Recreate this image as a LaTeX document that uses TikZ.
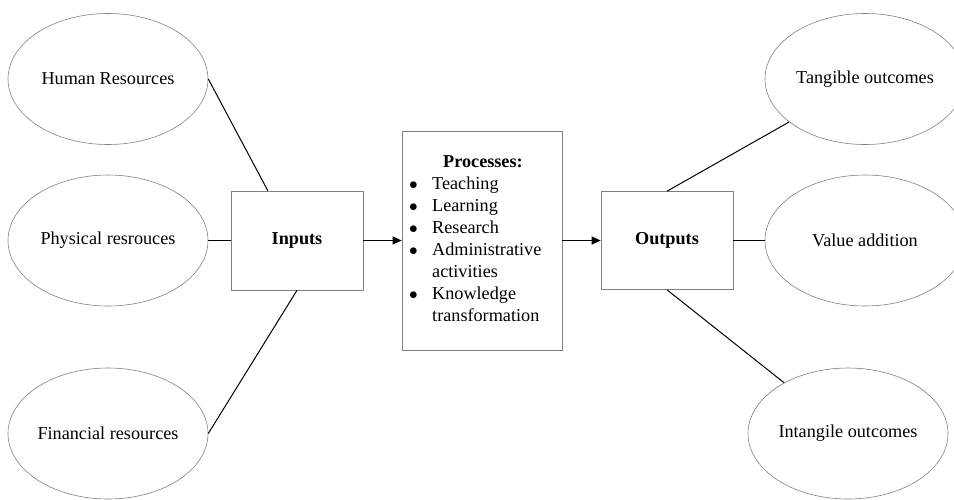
\documentclass[tikz,border=0pt]{standalone}
\usepackage{fontspec}
\setmainfont{Liberation Serif}
\usetikzlibrary{shapes.geometric,arrows.meta,calc}
\newcommand\mybul{$\bullet$}
\begin{document}
\begin{tikzpicture}[x=1pt,y=-1pt,
  every node/.style={font=\fontsize{18.2}{22}\selectfont},
  res/.style={ellipse,draw=gray,line width=0.6pt,minimum width=200pt,minimum height=131pt,inner sep=0pt},
  blk/.style={rectangle,draw=gray,line width=0.6pt,inner sep=0pt},
  link/.style={draw=black,line width=1pt},
  flow/.style={draw=black,line width=1pt,-{Triangle[length=9pt,width=8pt]}}]
\useasboundingbox (0,0) rectangle (954,499);
% left ellipses
\node[res] (hr) at (108,79) {Human Resources};
\node[res] (pr) at (108,240.5) {Physical resrouces};
\node[res] (fr) at (108,433.5) {Financial resources};
% boxes
\node[blk,minimum width=132pt,minimum height=99pt,font=\fontsize{18.2}{22}\selectfont\bfseries] (in) at (297,240.5) {Inputs};
\node[blk,minimum width=160pt,minimum height=219pt] (proc) at (482,240.5) {};
\node[anchor=west,inner sep=0pt] (plist) at (409,240.5) {%
\begin{tabular}{@{}p{23pt}@{}l@{}}
\multicolumn{2}{@{}l@{}}{\hspace{34pt}\textbf{Processes:}}\\
\mybul & Teaching\\
\mybul & Learning\\
\mybul & Research\\
\mybul & Administrative\\
 & activities\\
\mybul & Knowledge\\
 & transformation
\end{tabular}};
\node[blk,minimum width=132pt,minimum height=98pt,font=\fontsize{18.2}{22}\selectfont\bfseries] (out) at (667,240.5) {Outputs};
% right ellipses
\node[res] (tan) at (865,79) {Tangible outcomes};
\node[res] (val) at (865,240.5) {Value addition};
\node[res] (int) at (848,433.5) {Intangile outcomes};
% connectors
\draw[link] (hr.east) -- ($(in.north west)!0.28!(in.north east)$);
\draw[link] (pr.east) -- (in.west);
\draw[link] (fr.east) -- (in.south);
\draw[flow] (in.east) -- (proc.west);
\draw[flow] (proc.east) -- (out.west);
\draw[link] (out.north) -- (tan);
\draw[link] (out.east) -- (val.west);
\draw[link] (out.south) -- (int);
\end{tikzpicture}
\end{document}
